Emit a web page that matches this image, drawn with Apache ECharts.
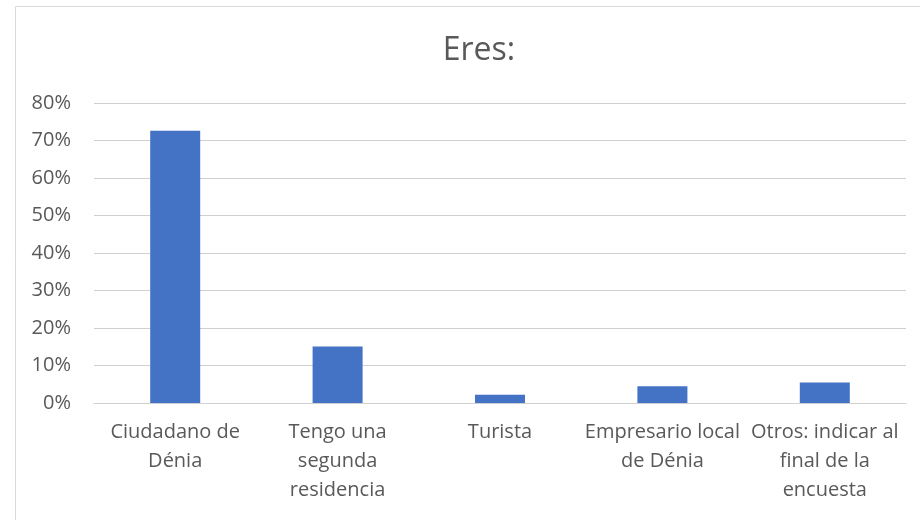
<!DOCTYPE html>
<html>
<head>
<meta charset="utf-8">
<script src="https://cdn.jsdelivr.net/npm/echarts@6/dist/echarts.min.js"></script>
<style>
  html, body { margin: 0; padding: 0; background: #fff; }
  #chart { width: 920px; height: 520px; }
</style>
</head>
<body>
<div id="chart"></div>
<script>
// categorias (con saltos de linea como en el original)
const categories = [
  "Ciudadano de\nDénia",
  "Tengo una\nsegunda\nresidencia",
  "Turista",
  "Empresario local\nde Dénia",
  "Otros: indicar al\nfinal de la\nencuesta"
];
// porcentajes
const values = [72.6, 15.1, 2.2, 4.5, 5.5];
const yTicks = [0, 10, 20, 30, 40, 50, 60, 70, 80];

const textColor = "#595959";
const font = "'Open Sans', 'Noto Sans', sans-serif";

const chart = echarts.init(document.getElementById("chart"));
chart.setOption({
  backgroundColor: "#fff",
  animation: false,
  title: {
    text: "Eres:",
    left: 474,
    top: 30,
    textAlign: "center",
    textStyle: {
      color: textColor,
      fontFamily: font,
      fontWeight: "normal",
      fontSize: 32
    }
  },
  graphic: [
    {
      type: "rect",
      left: 13,
      top: 4,
      shape: { width: 940, height: 540 },
      style: { fill: "none", stroke: "#d9d9d9", lineWidth: 1 },
      silent: true
    }
  ],
  grid: {
    left: 94,
    right: 14,
    top: 103,
    bottom: 117
  },
  xAxis: {
    type: "category",
    data: categories,
    axisLine: { lineStyle: { color: "#d0d0d0", width: 1 } },
    axisTick: { show: false },
    axisLabel: {
      interval: 0,
      margin: 15,
      color: textColor,
      fontFamily: font,
      fontSize: 20,
      lineHeight: 29
    }
  },
  yAxis: {
    type: "value",
    min: yTicks[0],
    max: yTicks[yTicks.length - 1],
    interval: 10,
    axisLine: { show: false },
    axisTick: { show: false },
    axisLabel: {
      margin: 23,
      color: textColor,
      fontFamily: font,
      fontSize: 20,
      formatter: "{value}%"
    },
    splitLine: {
      lineStyle: { color: "#d0d0d0", width: 1 }
    }
  },
  series: [
    {
      type: "bar",
      data: values,
      barWidth: 50,
      itemStyle: { color: "#4472C4" }
    }
  ]
});
</script>
</body>
</html>
